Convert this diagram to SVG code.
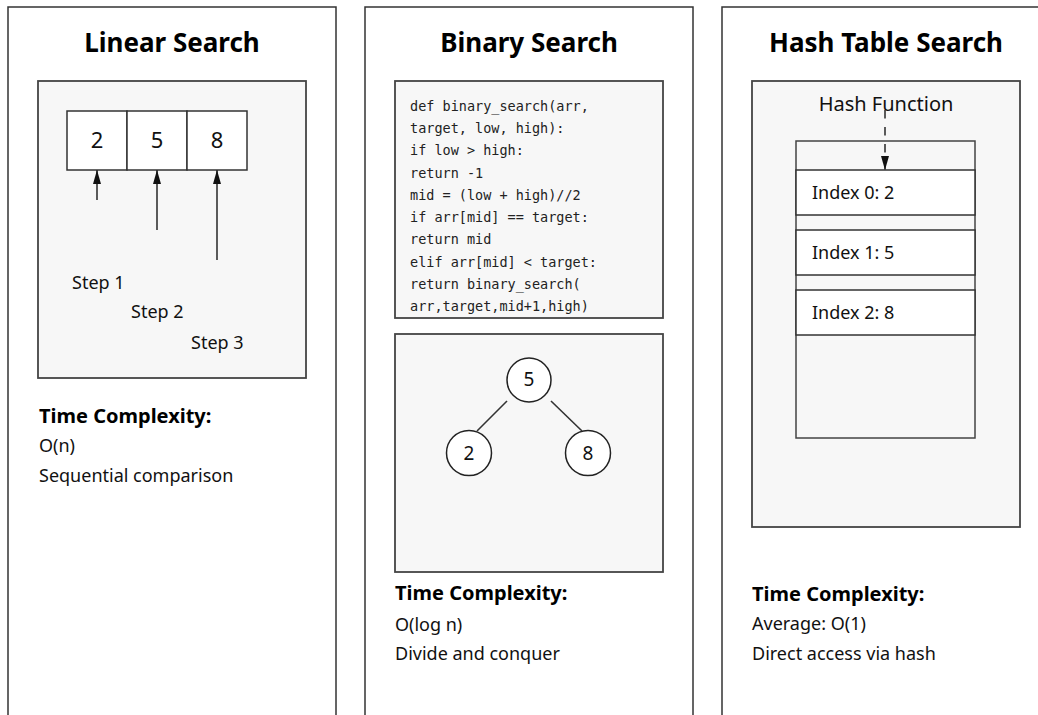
<svg xmlns="http://www.w3.org/2000/svg" width="1038" height="715" viewBox="0 0 1038 715">
  <style>
    .panel { fill: #ffffff; stroke: #333333; stroke-width: 1.5; }
    .well { fill: #f7f7f7; stroke: #444444; stroke-width: 1.8; }
    .cell { fill: #ffffff; stroke: #333333; stroke-width: 1.5; }
    .node { fill: #ffffff; stroke: #222222; stroke-width: 1.5; }
    .edge { stroke: #333333; stroke-width: 1.6; fill: none; }
    .title { font-family: "Noto Sans", "Open Sans", sans-serif; font-weight: bold; font-size: 26px; fill: #000000; text-anchor: middle; }
    .head { font-family: "Noto Sans", "Open Sans", sans-serif; font-weight: bold; font-size: 20px; fill: #000000; }
    .body { font-family: "Noto Sans", "Open Sans", sans-serif; font-size: 18px; fill: #111111; }
    .num { font-family: "Noto Sans", "Open Sans", sans-serif; font-size: 22px; fill: #111111; text-anchor: middle; }
    .leaf { font-family: "Noto Sans", "Open Sans", sans-serif; font-size: 19px; fill: #111111; text-anchor: middle; }
    .code { font-family: "DejaVu Sans Mono", "Liberation Mono", monospace; font-size: 13.5px; fill: #222222; }
  </style>
  <defs>
    <marker id="arrow" markerUnits="userSpaceOnUse" viewBox="0 0 14 8" markerWidth="14" markerHeight="8" refX="14" refY="4" orient="auto">
      <path d="M0,0 L14,4 L0,8 z" fill="#111111"/>
    </marker>
  </defs>

  <!-- Linear search panel -->
  <g id="linear">
    <rect class="panel" x="8" y="7" width="328" height="730"/>
    <text class="title" x="172" y="52">Linear Search</text>
    <rect class="well" x="38" y="81" width="268" height="297"/>
    <g id="linear-array">
      <rect class="cell" x="67" y="111" width="60" height="59"/>
      <rect class="cell" x="127" y="111" width="60" height="59"/>
      <rect class="cell" x="187" y="111" width="60" height="59"/>
      <text class="num" x="97" y="148">2</text>
      <text class="num" x="157" y="148">5</text>
      <text class="num" x="217" y="148">8</text>
    </g>
    <text class="body" x="72" y="289">Step 1</text>
    <text class="body" x="131" y="318">Step 2</text>
    <text class="body" x="191" y="349">Step 3</text>
    <text class="head" x="39" y="423">Time Complexity:</text>
    <text class="body" x="39" y="452">O(n)</text>
    <text class="body" x="39" y="482">Sequential comparison</text>
  </g>

  <!-- Binary search panel -->
  <g id="binary">
    <rect class="panel" x="365" y="7" width="328" height="730"/>
    <text class="title" x="529" y="52">Binary Search</text>
    <g id="binary-code">
      <rect class="well" x="395" y="81" width="268" height="237"/>
      <text class="code" x="410" y="111">def binary_search(arr,</text>
      <text class="code" x="410" y="133">target, low, high):</text>
      <text class="code" x="410" y="155">if low &gt; high:</text>
      <text class="code" x="410" y="177.5">return -1</text>
      <text class="code" x="410" y="200">mid = (low + high)//2</text>
      <text class="code" x="410" y="222">if arr[mid] == target:</text>
      <text class="code" x="410" y="244">return mid</text>
      <text class="code" x="410" y="266.5">elif arr[mid] &lt; target:</text>
      <text class="code" x="410" y="289">return binary_search(</text>
      <text class="code" x="410" y="311">arr,target,mid+1,high)</text>
    </g>
    <rect class="well" x="395" y="334" width="268" height="238"/>
    <g id="tree-root">
      <circle class="node" cx="529" cy="380" r="22"/>
      <text class="leaf" x="529" y="386">5</text>
    </g>
    <g id="tree-left">
      <circle class="node" cx="469" cy="453" r="22.5"/>
      <text class="leaf" x="469" y="459.5">2</text>
    </g>
    <g id="tree-right">
      <circle class="node" cx="588" cy="453" r="22.5"/>
      <text class="leaf" x="588" y="459.5">8</text>
    </g>
    <text class="head" x="395" y="600">Time Complexity:</text>
    <text class="body" x="395" y="631">O(log n)</text>
    <text class="body" x="395" y="660">Divide and conquer</text>
  </g>

  <!-- Hash table panel -->
  <g id="hash">
    <rect class="panel" x="722" y="7" width="328" height="730"/>
    <text class="title" x="886" y="52">Hash Table Search</text>
    <rect class="well" x="752" y="81" width="268" height="446"/>
    <g id="hash-table">
      <rect class="well" x="796" y="141" width="179" height="297" style="stroke-width:1.5"/>
      <rect class="cell" x="796" y="170" width="179" height="45"/>
      <rect class="cell" x="796" y="230" width="179" height="45"/>
      <rect class="cell" x="796" y="290" width="179" height="45"/>
      <text class="body" x="812" y="199">Index 0: 2</text>
      <text class="body" x="812" y="259">Index 1: 5</text>
      <text class="body" x="812" y="319">Index 2: 8</text>
    </g>
    <text class="body" x="886" y="111" text-anchor="middle" style="font-size:20px">Hash Function</text>
    <text class="head" x="752" y="601">Time Complexity:</text>
    <text class="body" x="752" y="630">Average: O(1)</text>
    <text class="body" x="752" y="660">Direct access via hash</text>
  </g>

  <!-- Connectors -->
  <g id="connectors">
    <line class="edge" x1="97" y1="200" x2="97" y2="170" marker-end="url(#arrow)"/>
    <line class="edge" x1="157" y1="230" x2="157" y2="170" marker-end="url(#arrow)"/>
    <line class="edge" x1="217" y1="260" x2="217" y2="170" marker-end="url(#arrow)"/>
    <line class="edge" x1="507" y1="401" x2="477" y2="431"/>
    <line class="edge" x1="551" y1="401" x2="582" y2="431"/>
    <line class="edge" x1="885" y1="110" x2="885" y2="170" stroke-dasharray="8.5 8.5" marker-end="url(#arrow)"/>
  </g>
</svg>
